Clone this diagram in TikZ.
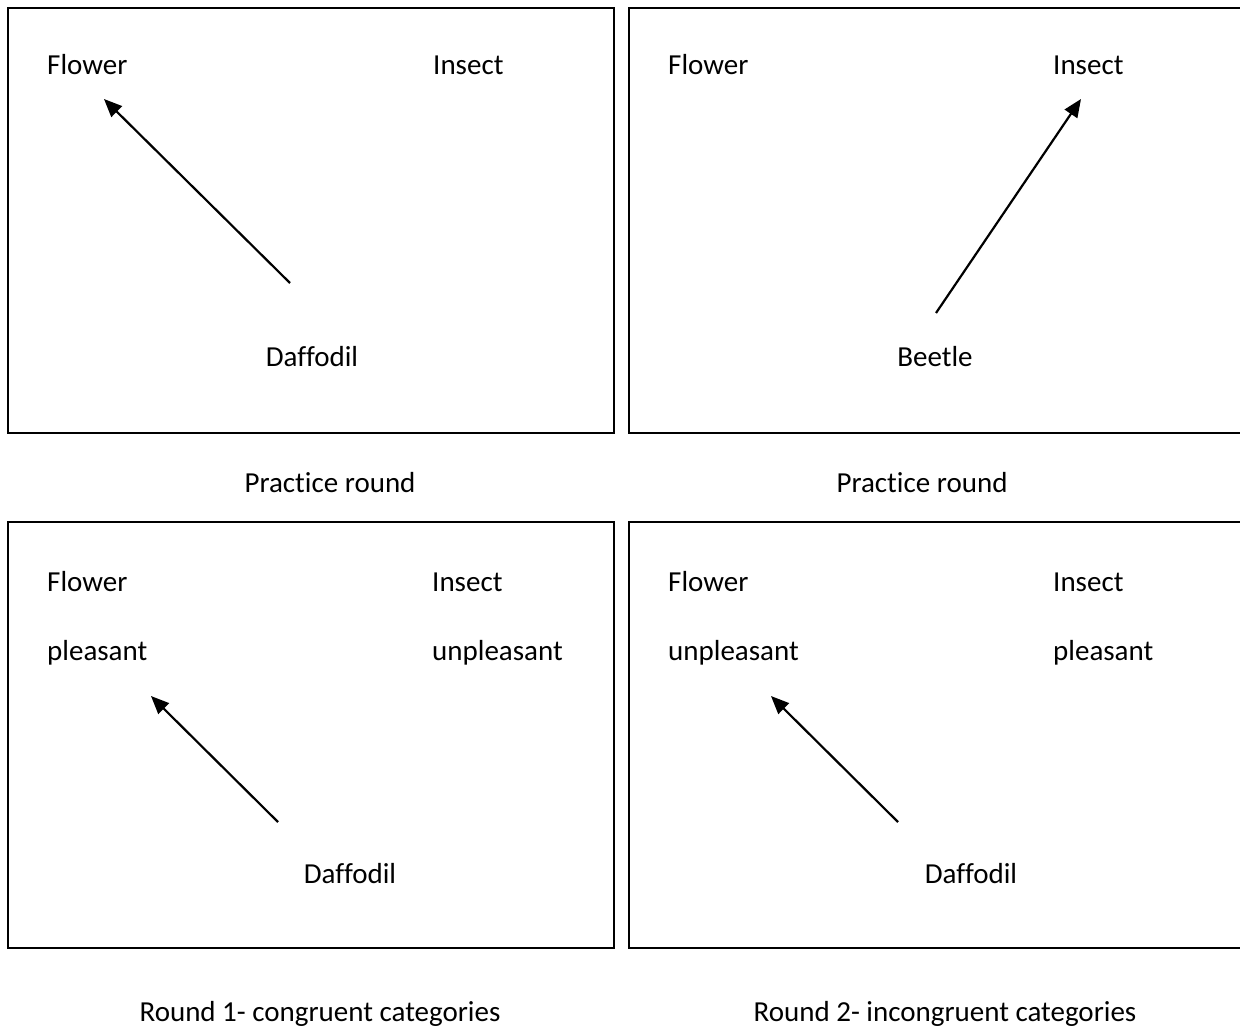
\documentclass[tikz,border=0pt]{standalone}
\usepackage{fontspec}
\setmainfont[Ligatures=NoCommon]{Carlito}
\usetikzlibrary{arrows.meta}

\begin{document}
\begin{tikzpicture}[
    x=1pt, y=-1pt,
    screen/.style={draw, line width=1.6pt},
    word/.style={inner sep=0pt, anchor=base west, font=\fontsize{29}{34}\selectfont},
    midword/.style={inner sep=0pt, anchor=base, font=\fontsize{29}{34}\selectfont},
    arrow/.style={-{Triangle[length=18pt,width=15pt]}, line width=2.2pt}
]
    \useasboundingbox (0,0) rectangle (1240,1027);

    % Bildschirme
    \draw[screen] (8,8) rectangle (614,433);
    \draw[screen] (629,8) rectangle (1250,433);
    \draw[screen] (8,522) rectangle (614,948);
    \draw[screen] (629,522) rectangle (1250,948);

    % Uebungsrunde links
    \node[word] (flowerA) at (47,75) {Flower};
    \node[word] (insectA) at (433,75) {Insect};
    \node[midword] (daffA) at (312,366) {Daffodil};
    \coordinate (startA) at (290,283);
    \coordinate (tipA) at (104,99);
    \draw[arrow] (startA) -- (tipA);

    % Uebungsrunde rechts
    \node[word] (flowerB) at (668,75) {Flower};
    \node[word] (insectB) at (1053,75) {Insect};
    \node[midword] (beetleB) at (935,366) {Beetle};
    \coordinate (startB) at (936,313);
    \coordinate (tipB) at (1081,99);
    \draw[arrow] (startB) -- (tipB);

    % Runde 1
    \node[word] (flowerC) at (47,591) {Flower};
    \node[word] (insectC) at (432,591) {Insect};
    \node[word] (pleasC) at (47,660) {pleasant};
    \node[word] (unpleasC) at (432,660) {unpleasant};
    \node[midword] (daffC) at (350,883) {Daffodil};
    \coordinate (startC) at (278,822);
    \coordinate (tipC) at (151,696);
    \draw[arrow] (startC) -- (tipC);

    % Runde 2
    \node[word] (flowerD) at (668,591) {Flower};
    \node[word] (insectD) at (1053,591) {Insect};
    \node[word] (unpleasD) at (668,660) {unpleasant};
    \node[word] (pleasD) at (1053,660) {pleasant};
    \node[midword] (daffD) at (971,883) {Daffodil};
    \coordinate (startD) at (898,822);
    \coordinate (tipD) at (771,696);
    \draw[arrow] (startD) -- (tipD);

    % Beschriftungen
    \node[midword] (capA) at (330,492) {Practice round};
    \node[midword] (capB) at (922,492) {Practice round};
    \node[midword] (capC) at (320,1021) {Round 1- congruent categories};
    \node[midword] (capD) at (945,1021) {Round 2- incongruent categories};
\end{tikzpicture}
\end{document}
